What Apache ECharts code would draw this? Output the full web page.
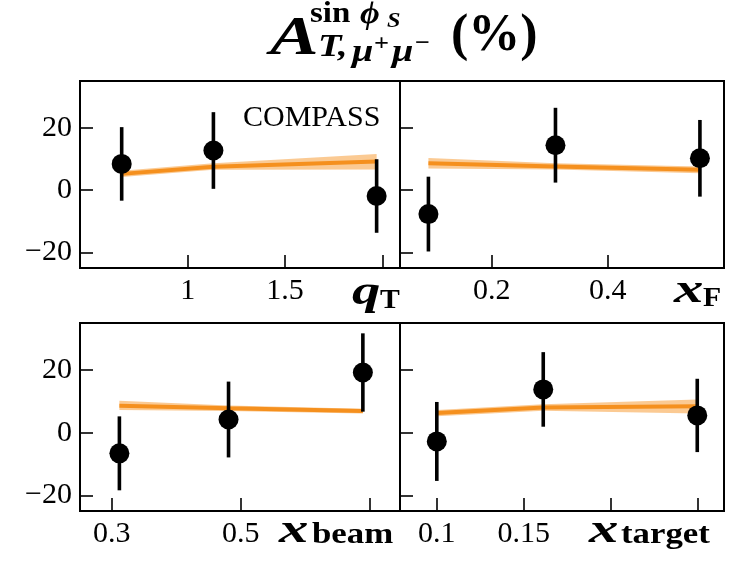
<!DOCTYPE html>
<html>
<head>
<meta charset="utf-8">
<script src="https://cdn.jsdelivr.net/npm/echarts@6/dist/echarts.min.js"></script>
<style>
html,body{margin:0;padding:0;background:#fff;}
#main{width:732px;height:561px;}
</style>
</head>
<body>
<div id="main"></div>
<script>
// ---- data ----
// panel order: qT, xF, xbeam, xtarget
const qT_x = [0.661, 1.132, 1.97];
const qT_y = [8.4, 12.7, -1.9];
const qT_err = [11.8, 12.3, 11.8];
const qT_band_mid = [5.2, 7.5, 9.2];
const qT_band_lo = [4.2, 6.5, 6.6];
const qT_band_hi = [6.2, 8.6, 11.6];

const xF_x = [0.091, 0.31, 0.559];
const xF_y = [-7.7, 14.4, 10.2];
const xF_err = [12.0, 12.0, 12.3];
const xF_band_mid = [8.6, 7.6, 6.5];
const xF_band_lo = [6.9, 6.6, 5.4];
const xF_band_hi = [10.3, 8.6, 7.6];

const xb_x = [0.312, 0.481, 0.689];
const xb_y = [-6.6, 4.2, 19.2];
const xb_err = [11.8, 12.1, 12.5];
const xb_band_mid = [8.6, 7.8, 6.9];
const xb_band_lo = [7.2, 6.9, 6.1];
const xb_band_hi = [10.2, 8.7, 7.6];

const xt_x = [0.1, 0.1613, 0.25];
const xt_y = [-2.8, 13.8, 5.5];
const xt_err = [12.6, 11.9, 11.7];
const xt_band_mid = [6.3, 8.0, 8.4];
const xt_band_lo = [5.2, 7.0, 6.1];
const xt_band_hi = [7.2, 9.1, 10.6];

// tick values / labels
const qT_ticks = [1, 1.5, 2];
const qT_labels = [1, 1.5];
const xF_ticks = [0.2, 0.4];
const xF_labels = [0.2, 0.4];
const xb_ticks = [0.3, 0.5, 0.7];
const xb_labels = [0.3, 0.5];
const xt_ticks = [0.1, 0.15, 0.2, 0.25];
const xt_labels = [0.1, 0.15];
const y_ticks = [-20, 0, 20];

const panels = [
  {x: qT_x, y: qT_y, err: qT_err, mid: qT_band_mid, lo: qT_band_lo, hi: qT_band_hi, xmin: 0.447, xmax: 2.09, ticks: qT_ticks, labels: qT_labels},
  {x: xF_x, y: xF_y, err: xF_err, mid: xF_band_mid, lo: xF_band_lo, hi: xF_band_hi, xmin: 0.042, xmax: 0.6005, ticks: xF_ticks, labels: xF_labels},
  {x: xb_x, y: xb_y, err: xb_err, mid: xb_band_mid, lo: xb_band_lo, hi: xb_band_hi, xmin: 0.251, xmax: 0.7465, ticks: xb_ticks, labels: xb_labels},
  {x: xt_x, y: xt_y, err: xt_err, mid: xt_band_mid, lo: xt_band_lo, hi: xt_band_hi, xmin: 0.0788, xmax: 0.2654, ticks: xt_ticks, labels: xt_labels}
];

const gridRects = [
  {left: 80, top: 81, width: 320, height: 187},
  {left: 400, top: 81, width: 324, height: 187},
  {left: 80, top: 323, width: 320, height: 188},
  {left: 400, top: 323, width: 324, height: 188}
];

const SERIF = '"Liberation Serif", "DejaVu Serif", serif';
const ORANGE = '#f5901e';
const BAND = 'rgba(247,150,40,0.5)';

const grids = [], xAxes = [], yAxes = [], series = [];
panels.forEach((p, i) => {
  grids.push(Object.assign({show: true, borderColor: '#000', borderWidth: 2, containLabel: false}, gridRects[i]));
  xAxes.push({
    type: 'value', gridIndex: i, min: p.xmin, max: p.xmax,
    axisLine: {show: false, onZero: false},
    splitLine: {show: false},
    axisTick: {show: true, inside: true, length: 13, customValues: p.ticks, lineStyle: {color: '#000', width: 1.6}},
    axisLabel: {show: true, customValues: p.labels, margin: 8, color: '#000', fontFamily: SERIF, fontSize: 30,
      formatter: v => String(v)}
  });
  yAxes.push({
    type: 'value', gridIndex: i, min: -25, max: 35,
    axisLine: {show: false, onZero: false},
    splitLine: {show: false},
    axisTick: {show: true, inside: true, length: 13, customValues: y_ticks, lineStyle: {color: '#000', width: 1.6}},
    axisLabel: {show: (i % 2 === 0), customValues: y_ticks, margin: 8, color: '#000', fontFamily: SERIF, fontSize: 30,
      formatter: v => (v < 0 ? '\u2212' + Math.abs(v) : String(v))}
  });
  // band
  const bandData = p.x.map((xv, k) => [xv, p.lo[k], p.hi[k]]);
  series.push({
    type: 'custom', xAxisIndex: i, yAxisIndex: i, z: 1, silent: true,
    data: bandData, encode: {x: 0, y: [1, 2]},
    renderItem: (params, api) => {
      if (params.dataIndex !== 0) return null;
      const pts = [];
      bandData.forEach(d => pts.push(api.coord([d[0], d[2]])));
      for (let k = bandData.length - 1; k >= 0; k--) pts.push(api.coord([bandData[k][0], bandData[k][1]]));
      return {type: 'polygon', shape: {points: pts}, style: {fill: BAND}};
    }
  });
  // theory line
  series.push({
    type: 'line', xAxisIndex: i, yAxisIndex: i, z: 2, silent: true,
    data: p.x.map((xv, k) => [xv, p.mid[k]]),
    showSymbol: false, lineStyle: {color: ORANGE, width: 4}
  });
  // error bars
  series.push({
    type: 'custom', xAxisIndex: i, yAxisIndex: i, z: 3, silent: true,
    data: p.x.map((xv, k) => [xv, p.y[k] - p.err[k], p.y[k] + p.err[k]]),
    encode: {x: 0, y: [1, 2]},
    renderItem: (params, api) => {
      const a = api.coord([api.value(0), api.value(1)]);
      const b = api.coord([api.value(0), api.value(2)]);
      return {type: 'line', shape: {x1: a[0], y1: a[1], x2: b[0], y2: b[1]}, style: {stroke: '#000', lineWidth: 3.6}};
    }
  });
  // points
  series.push({
    type: 'scatter', xAxisIndex: i, yAxisIndex: i, z: 4, silent: true,
    data: p.x.map((xv, k) => [xv, p.y[k]]),
    symbol: 'circle', symbolSize: 20, itemStyle: {color: '#000', opacity: 1}
  });
});

function txt(t, x, y, size, weight, style, sx) {
  return {
    type: 'text', x: x, y: y, z: 100, silent: true, scaleX: sx || 1,
    style: {text: t, fill: '#000', fontFamily: SERIF, fontSize: size, fontWeight: weight, fontStyle: style,
      align: 'left', verticalAlign: 'middle'}
  };
}

const graphics = [
  // title
  txt('A', 270, 40, 54, 'bold', 'italic', 1.35),
  txt('sin', 310, 14, 30, 'bold', 'normal', 1.1),
  txt('\u03d5', 360, 15, 31, 'bold', 'italic', 1.1),
  txt('S', 387, 21, 22, 'bold', 'italic', 1.1),
  txt('T,', 318, 48, 32, 'bold', 'italic', 1.2),
  txt('\u03bc', 352, 53, 32, 'bold', 'italic', 1.2),
  txt('+', 374, 44, 24, 'bold', 'normal', 1.1),
  txt('\u03bc', 392, 53, 32, 'bold', 'italic', 1.2),
  txt('\u2212', 415, 44, 24, 'bold', 'normal', 1.1),
  txt('(%)', 451, 37, 52, 'bold', 'normal'),
  // COMPASS
  txt('COMPASS', 243, 118, 30, 'normal', 'normal'),
  // axis names
  txt('q', 352, 293, 42, 'bold', 'italic', 1.35),
  txt('T', 380, 301, 27, 'bold', 'normal', 1.1),
  txt('x', 674, 291, 42, 'bold', 'italic', 1.4),
  txt('F', 703, 299, 27, 'bold', 'normal', 1.1),
  txt('x', 279, 531, 42, 'bold', 'italic', 1.4),
  txt('beam', 312, 536, 29, 'bold', 'normal', 1.2),
  txt('x', 589, 531, 42, 'bold', 'italic', 1.4),
  txt('target', 621, 536, 29, 'bold', 'normal', 1.2)
];

const chart = echarts.init(document.getElementById('main'), null, {renderer: 'canvas'});
chart.setOption({
  animation: false,
  backgroundColor: '#fff',
  grid: grids,
  xAxis: xAxes,
  yAxis: yAxes,
  series: series,
  graphic: graphics
});
</script>
</body>
</html>
